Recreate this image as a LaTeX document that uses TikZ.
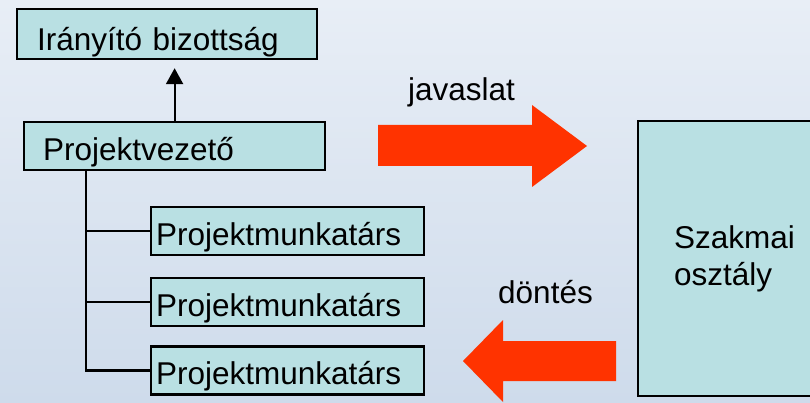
\documentclass[tikz,border=0pt]{standalone}
\usepackage{fontspec}
\setmainfont{Liberation Sans}
\usetikzlibrary{positioning,arrows.meta}
\definecolor{bgtop}{RGB}{232,238,246}
\definecolor{bgbottom}{RGB}{206,219,235}
\definecolor{boxfill}{RGB}{185,224,227}
\definecolor{arrowred}{RGB}{255,51,0}

\begin{document}
\begin{tikzpicture}[x=1pt,y=-1pt,font=\fontsize{31.5}{37}\selectfont]
\tikzstyle{boxbase} = [rectangle, draw=black, line width=2.2pt,
fill=boxfill, align=left, anchor=north west]
\tikzstyle{unit} = [boxbase, inner ysep=0pt,
text height=38pt, text depth=10pt]
\tikzstyle{link} = [line width=2.2pt]
\tikzstyle{bigarrow} = [fill=arrowred]

\shade [top color=bgtop, bottom color=bgbottom] (0,0) rectangle (810,403);
\useasboundingbox (0,0) rectangle (810,403);

\node (board) [unit, inner xsep=20pt, text width=260pt, text height=41pt, text depth=9pt] at (16,8) {Irányító bizottság};
\node (leader) [unit, inner xsep=19pt, text width=263pt, below=61pt of board.south west, anchor=north west, xshift=7pt] {Projektvezető};
\node (member1) [unit, inner xsep=5pt, text width=263pt] at (150,206) {Projektmunkatárs};
\node (member2) [unit, inner xsep=5pt, text width=263pt, below=21pt of member1] {Projektmunkatárs};
\node (member3) [unit, inner xsep=5pt, text width=263pt, below=18pt of member2] {Projektmunkatárs};
\node (dept) [boxbase, inner xsep=36pt, text width=170pt, minimum height=275pt] at (637,120) {Szakmai\\osztály};

\coordinate (trunk) at ([xshift=63pt]leader.south west);

\draw [link, -{Triangle[length=16pt,width=17pt]}, shorten >=8pt] (leader.north) -- (leader.north |- board.south);
\draw [link] (trunk) |- (member1.west);
\draw [link] (trunk) |- (member2.west);
\draw [link] (trunk) |- (member3.west);

% nagy piros nyilak
\fill [bigarrow] (378,125) -- (532,125) -- (532,105) -- (587,146) -- (532,187) -- (532,166) -- (378,166) -- cycle;
\fill [bigarrow] (616,341) -- (503,341) -- (503,320) -- (463,361) -- (503,402) -- (503,381) -- (616,381) -- cycle;

\node (proposal) [anchor=base west, inner sep=0pt] at (408,101) {javaslat};
\node (decision) [anchor=base west, inner sep=0pt] at (498,303) {döntés};

\end{tikzpicture}
\end{document}
